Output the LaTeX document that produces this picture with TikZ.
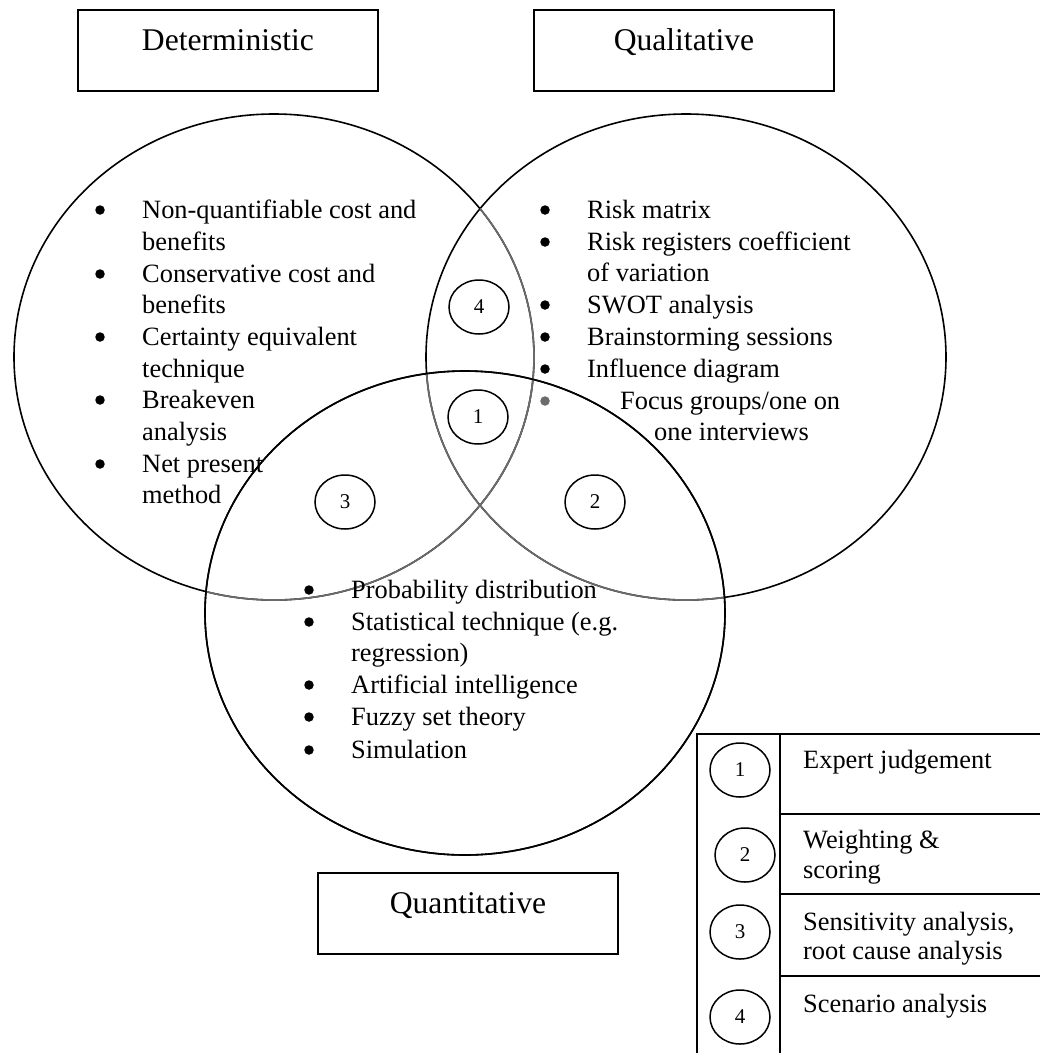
\documentclass[tikz,border=0pt]{standalone}
\usepackage{fontspec}
\setmainfont{Liberation Serif}
\usetikzlibrary{shapes.geometric}

\definecolor{arcgrey}{gray}{0.42}
\newcommand{\bodyfont}{\fontsize{26.4}{31.7}\selectfont}
\newcommand{\titlefont}{\fontsize{31.6}{36}\selectfont}
\newcommand{\numfont}{\fontsize{21}{21}\selectfont}

\begin{document}
\begin{tikzpicture}[x=1pt,y=-1pt,
  titlebox/.style={draw, line width=1.9pt, minimum width=300pt, inner sep=0pt,
    text height=41pt, text depth=40pt, font=\titlefont, anchor=north west},
  venn/.style={line width=1.6pt},
  numring/.style={draw, ellipse, line width=1.5pt, minimum width=60pt,
    minimum height=54pt, inner sep=0pt, font=\numfont},
  txt/.style={font=\bodyfont, inner sep=0pt, anchor=base west},
  bul/.style={circle, fill=black, inner sep=0pt, minimum size=9.5pt, yshift=8pt},
  rule/.style={line width=1.7pt},
  thickrule/.style={line width=2.7pt}]

\useasboundingbox (0,0) rectangle (1040,1053);

% ---- category boxes ----
\node[titlebox] (det) at (77,9) {Deterministic};
\node[titlebox] (qual) at (533,9) {Qualitative};
\node[titlebox] (quant) at (317,872) {Quantitative};

% ---- Venn ellipses ----
\coordinate (cL) at (274,357);
\coordinate (cR) at (686,357);
\coordinate (cB) at (465,613);

\draw[venn] (cL) ellipse [x radius=260, y radius=243];
\draw[venn] (cR) ellipse [x radius=260, y radius=243];
\draw[venn] (cB) ellipse [x radius=260, y radius=242];

% arcs lying under an overlapping ellipse are shown lighter
\begin{scope}
  \clip (cR) ellipse [x radius=260, y radius=243];
  \draw[venn, arcgrey] (cL) ellipse [x radius=260, y radius=243];
\end{scope}
\begin{scope}
  \clip (cB) ellipse [x radius=260, y radius=242];
  \draw[venn, arcgrey] (cL) ellipse [x radius=260, y radius=243];
  \draw[venn, arcgrey] (cR) ellipse [x radius=260, y radius=243];
\end{scope}
\draw[venn] (cB) ellipse [x radius=260, y radius=242];

% ---- numbered overlaps ----
\node[numring] (n4) at (479,307) {4};
\node[numring] (n1) at (478,417) {1};
\node[numring] (n3) at (345,502) {3};
\node[numring] (n2) at (595,502) {2};

% ---- deterministic list ----
\node[bul] (lb1) at (100,218) {};
\node[txt] (lt1) at (142,218) {Non-quantifiable cost and};
\node[txt] (lt2) at (142,250) {benefits};
\node[bul] (lb2) at (100,282) {};
\node[txt] (lt3) at (142,282) {Conservative cost and};
\node[txt] (lt4) at (142,313) {benefits};
\node[bul] (lb3) at (100,345) {};
\node[txt] (lt5) at (142,345) {Certainty equivalent};
\node[txt] (lt6) at (142,377) {technique};
\node[bul] (lb4) at (100,408) {};
\node[txt] (lt7) at (142,408) {Breakeven};
\node[txt] (lt8) at (142,440) {analysis};
\node[bul] (lb5) at (100,472) {};
\node[txt] (lt9) at (142,472) {Net present};
\node[txt] (lt10) at (142,503) {method};

% ---- qualitative list ----
\node[bul] (rb1) at (545,218) {};
\node[txt] (rt1) at (587,218) {Risk matrix};
\node[bul] (rb2) at (545,250) {};
\node[txt] (rt2) at (587,250) {Risk registers coefficient};
\node[txt] (rt3) at (587,281) {of variation};
\node[bul] (rb3) at (545,313) {};
\node[txt] (rt4) at (587,313) {SWOT analysis};
\node[bul] (rb4) at (545,345) {};
\node[txt] (rt5) at (587,345) {Brainstorming sessions};
\node[bul] (rb5) at (545,377) {};
\node[txt] (rt6) at (587,377) {Influence diagram};
\node[bul, fill=arcgrey] (rb6) at (545,409) {};
\node[txt] (rt7) at (620,409) {Focus groups/one on};
\node[txt] (rt8) at (654,440) {one interviews};

% ---- quantitative list ----
\node[bul] (bb1) at (309,598) {};
\node[txt] (bt1) at (351,598) {Probability distribution};
\node[bul] (bb2) at (309,630) {};
\node[txt] (bt2) at (351,630) {Statistical technique (e.g.};
\node[txt] (bt3) at (351,661) {regression)};
\node[bul] (bb3) at (309,693) {};
\node[txt] (bt4) at (351,693) {Artificial intelligence};
\node[bul] (bb4) at (309,725) {};
\node[txt] (bt5) at (351,725) {Fuzzy set theory};
\node[bul] (bb5) at (309,758) {};
\node[txt] (bt6) at (351,758) {Simulation};

% ---- key table ----
\coordinate (kTL) at (697,734);
\coordinate (kTR) at (1050,734);
\coordinate (kBL) at (697,1060);
\coordinate (kDT) at (780,734);
\coordinate (kDB) at (780,1060);
\coordinate (r1L) at (780,814);
\coordinate (r1R) at (1050,814);
\coordinate (r2L) at (780,894);
\coordinate (r2R) at (1050,894);
\coordinate (r3L) at (780,976);
\coordinate (r3R) at (1050,976);

\draw[rule] (kBL) -- (kTL) -- (kTR);
\draw[thickrule] (kDT) -- (kDB);
\draw[rule] (r1L) -- (r1R);
\draw[rule] (r2L) -- (r2R);
\draw[rule] (r3L) -- (r3R);

\node[numring] (k1) at (740,770) {1};
\node[numring] (k2) at (745,855) {2};
\node[numring] (k3) at (740,932) {3};
\node[numring] (k4) at (740,1017) {4};

\node[txt] (kt1) at (803,768) {Expert judgement};
\node[txt] (kt2) at (803,848) {Weighting \&};
\node[txt] (kt3) at (803,878) {scoring};
\node[txt] (kt4) at (803,930) {Sensitivity analysis,};
\node[txt] (kt5) at (803,959) {root cause analysis};
\node[txt] (kt6) at (803,1012) {Scenario analysis};

\end{tikzpicture}
\end{document}
